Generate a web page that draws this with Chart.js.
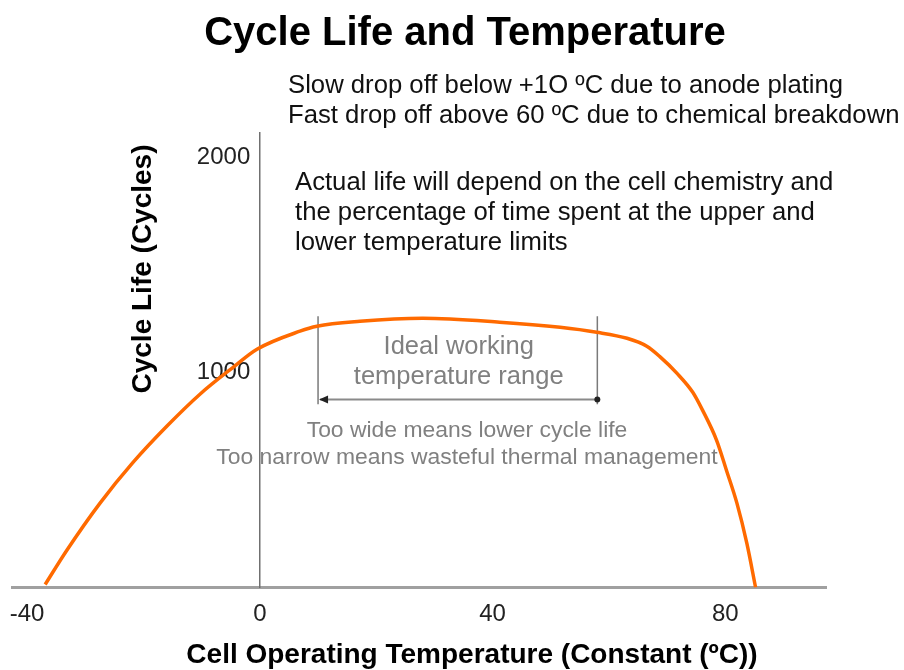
<!DOCTYPE html>
<html>
<head>
<meta charset="utf-8">
<script src="https://cdn.jsdelivr.net/npm/chart.js@4.4.1/dist/chart.umd.min.js"></script>
<style>
html,body{margin:0;padding:0;background:#ffffff;}
#wrap{width:904px;height:670px;position:relative;}
</style>
</head>
<body>
<div id="wrap"><canvas id="chart" width="904" height="670"></canvas></div>
<script>
// ---- data ----
const temperatures = [-36.9, -33.2, -27.5, -21.8, -16.0, -10.3, -4.6, -0.5, 6.9, 9.8, 17.2, 28.0, 41.2, 51.6, 57.9, 63.1, 66.5, 68.7, 71.7, 74.4, 76.1, 78.5, 80.2, 82.0, 83.7, 85.2];
const cycleLife    = [14, 172, 391, 581, 749, 898, 1023, 1107, 1191, 1214, 1237, 1251, 1233, 1209, 1186, 1158, 1121, 1074, 995, 907, 823, 684, 544, 391, 205, 0];
const xTickValues = [-40, 0, 40, 80];
const yTickValues = [1000, 2000];
const idealRange = [10, 58];          // bracket ends, deg C
const bracketSpan = [851, 1260];      // bracket vertical extent, cycles
const arrowLevel = 874;               // arrow height, cycles

const chartTitle = 'Cycle Life and Temperature';
const xTitle = 'Cell Operating Temperature (Constant (ºC))';
const yTitle = 'Cycle Life (Cycles)';
const noteTop = ['Slow drop off below +1O ºC due to anode plating', 'Fast drop off above 60 ºC due to chemical breakdown'];
const noteMid = ['Actual life will depend on the cell chemistry and', 'the percentage of time spent at the upper and', 'lower temperature limits'];
const rangeLabel = ['Ideal working', 'temperature range'];
const rangeNote = ['Too wide means lower cycle life', 'Too narrow means wasteful thermal management'];

const FONT = '"Liberation Sans", Arial, Helvetica, sans-serif';

const annotations = {
  id: 'annotations',
  beforeDatasetsDraw(chart) {
    const ctx = chart.ctx, xs = chart.scales.x, ys = chart.scales.y;
    const x1 = xs.getPixelForValue(idealRange[0]);
    const x2 = xs.getPixelForValue(idealRange[1]);
    const yt = ys.getPixelForValue(bracketSpan[1]);
    const yb = ys.getPixelForValue(bracketSpan[0]);
    const ya = ys.getPixelForValue(arrowLevel);
    ctx.save();
    ctx.strokeStyle = '#7a7a7a';
    ctx.lineWidth = 1.5;
    ctx.beginPath();
    ctx.moveTo(x1, yt); ctx.lineTo(x1, yb);
    ctx.moveTo(x2, yt); ctx.lineTo(x2, yb);
    ctx.stroke();
    ctx.strokeStyle = '#8a8a8a';
    ctx.lineWidth = 2;
    ctx.beginPath();
    ctx.moveTo(x1 + 2, ya); ctx.lineTo(x2, ya);
    ctx.stroke();
    ctx.fillStyle = '#222';
    ctx.beginPath();
    ctx.moveTo(x1 + 1, ya); ctx.lineTo(x1 + 10, ya - 4); ctx.lineTo(x1 + 10, ya + 4); ctx.closePath();
    ctx.fill();
    ctx.beginPath();
    ctx.arc(x2, ya, 3, 0, Math.PI * 2);
    ctx.fill();

    ctx.fillStyle = '#808080';
    ctx.textAlign = 'center';
    ctx.textBaseline = 'middle';
    ctx.font = '25.5px ' + FONT;
    const cx = (x1 + x2) / 2;
    ctx.fillText(rangeLabel[0], cx + 1, 347);
    ctx.fillText(rangeLabel[1], cx + 1, 377);
    ctx.font = '22.9px ' + FONT;
    ctx.fillText(rangeNote[0], 467, 431);
    ctx.fillText(rangeNote[1], 467, 458);
    ctx.restore();
  },
  afterDraw(chart) {
    const ctx = chart.ctx;
    ctx.save();
    ctx.fillStyle = '#000';
    ctx.textBaseline = 'middle';
    ctx.textAlign = 'center';
    ctx.font = 'bold 40px ' + FONT;
    ctx.fillText(chartTitle, 465, 34);
    ctx.font = 'bold 28px ' + FONT;
    ctx.fillText(xTitle, 472, 655);
    ctx.save();
    ctx.translate(143, 269);
    ctx.rotate(-Math.PI / 2);
    ctx.fillText(yTitle, 0, 0);
    ctx.restore();
    ctx.fillStyle = '#111';
    ctx.textAlign = 'left';
    ctx.font = '25.7px ' + FONT;
    noteTop.forEach((t, i) => ctx.fillText(t, 288, 86 + i * 30));
    noteMid.forEach((t, i) => ctx.fillText(t, 295, 183 + i * 30));
    ctx.restore();
  }
};

new Chart(document.getElementById('chart'), {
  type: 'scatter',
  data: {
    datasets: [{
      data: temperatures.map((t, i) => ({x: t, y: cycleLife[i]})),
      showLine: true,
      borderColor: '#ff6a00',
      borderWidth: 3.5,
      pointRadius: 0,
      cubicInterpolationMode: 'monotone',
      fill: false
    }]
  },
  options: {
    responsive: false,
    animation: false,
    devicePixelRatio: 1,
    layout: { padding: { left: 12, right: 78, top: 133, bottom: 29.5 } },
    plugins: { legend: { display: false }, title: { display: false }, tooltip: { enabled: false } },
    scales: {
      x: {
        type: 'linear',
        position: 'bottom',
        min: -42.6,
        max: 97.3,
        afterBuildTicks: s => { s.ticks = xTickValues.map(v => ({value: v})); },
        afterFit: s => { s.paddingLeft = 0; s.paddingRight = 0; },
        grid: { display: false, drawTicks: false },
        border: { display: true, color: '#a0a0a0', width: 3 },
        ticks: { color: '#222', padding: 14.5, font: { family: FONT, size: 24, lineHeight: 1 } }
      },
      y: {
        type: 'linear',
        position: { x: 0 },
        min: 0,
        max: 2112,
        afterBuildTicks: s => { s.ticks = yTickValues.map(v => ({value: v})); },
        grid: { display: false, drawTicks: false },
        border: { display: true, color: '#707070', width: 1.5 },
        ticks: {
          color: '#222',
          font: { family: FONT, size: 24, lineHeight: 1 },
          callback: v => String(v) + '\u2009\u2009'
        }
      }
    }
  },
  plugins: [annotations]
});
</script>
</body>
</html>
